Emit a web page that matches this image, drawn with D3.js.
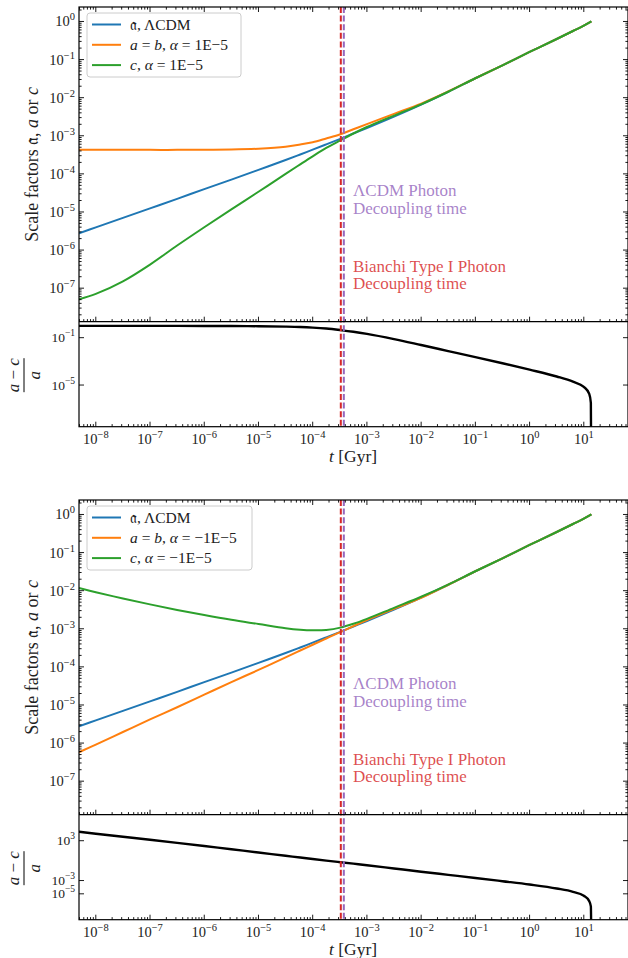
<!DOCTYPE html>
<html><head><meta charset="utf-8">
<script src="https://cdnjs.cloudflare.com/ajax/libs/d3/7.8.5/d3.min.js"></script>
<style>
body{margin:0;background:#fff}
svg{display:block}
text{font-family:"Liberation Serif","DejaVu Serif",serif;fill:#222}
</style>
</head><body>
<svg id="fig" width="628" height="958"></svg>
<script>
// all values are log10 (t in Gyr)
const logT = [-8.31,-8,-7.5,-7,-6.5,-6,-5.5,-5,-4.5,-4.23,-4,-3.75,-3.49,-3.25,-3,-2.5,-2,-1.5,-1,-0.5,0,0.5,0.8,1.0,1.14];
const aLCDM = [-5.56,-5.405,-5.155,-4.905,-4.655,-4.40,-4.15,-3.895,-3.635,-3.49,-3.365,-3.225,-3.08,-2.94,-2.795,-2.495,-2.18,-1.845,-1.49,-1.15,-0.80,-0.46,-0.25,-0.11,0.0];
// alpha = 1E-5
const abPos = [-3.37,-3.37,-3.37,-3.37,-3.37,-3.365,-3.36,-3.34,-3.29,-3.23,-3.17,-3.07,-2.96,-2.83,-2.695,-2.425,-2.155,-1.835,-1.49,-1.15,-0.80,-0.46,-0.25,-0.11,0.0];
const cPos  = [-7.29,-7.15,-6.82,-6.38,-5.88,-5.40,-4.93,-4.47,-4.00,-3.75,-3.54,-3.32,-3.12,-2.94,-2.77,-2.47,-2.175,-1.845,-1.49,-1.15,-0.80,-0.46,-0.25,-0.11,0.0];
// alpha = -1E-5
const abNeg = [-6.24,-6.04,-5.71,-5.38,-5.06,-4.73,-4.40,-4.08,-3.75,-3.57,-3.42,-3.255,-3.09,-2.93,-2.77,-2.475,-2.19,-1.845,-1.49,-1.15,-0.80,-0.46,-0.25,-0.11,0.0];
const cNeg  = [-1.93,-2.04,-2.205,-2.36,-2.505,-2.64,-2.765,-2.875,-2.985,-3.025,-3.04,-3.03,-2.97,-2.87,-2.74,-2.45,-2.16,-1.84,-1.49,-1.15,-0.80,-0.46,-0.25,-0.11,0.0];

// relative difference (a - c)/a
const logTres = [-8.31,-8,-7.5,-7,-6.5,-6,-5.5,-5,-4.5,-4.23,-4,-3.75,-3.49,-3.25,-3,-2.5,-2,-1.5,-1,-0.5,0,0.5,0.8,1.0,1.1,1.13,1.14];
const resPos = [-0.003,-0.003,-0.003,-0.004,-0.006,-0.01,-0.017,-0.03,-0.065,-0.1,-0.15,-0.23,-0.36,-0.5,-0.68,-1.12,-1.62,-2.13,-2.64,-3.16,-3.7,-4.28,-4.72,-5.15,-5.75,-6.5,-14];
const resNeg = [4.36,4.05,3.6,3.15,2.68,2.2,1.71,1.23,0.73,0.47,0.24,0.0,-0.24,-0.46,-0.69,-1.18,-1.67,-2.14,-2.61,-3.1,-3.6,-4.2,-4.7,-5.3,-6.1,-6.9,-14];

const xTicks = [-8,-7,-6,-5,-4,-3,-2,-1,0,1];
const mainTicks = [0,-1,-2,-3,-4,-5,-6,-7];
const resPosTicks = [-1,-5];
const resNegTicks = [3,-3,-5];

const tDecLCDM = 3.75e-4, tDecBianchi = 3.3e-4;

const C = {blue:"#1f77b4", orange:"#ff7f0e", green:"#2ca02c", red:"#d62728", purple:"#9467bd"};

const svg = d3.select("#fig");
const X0 = 79, X1 = 628;
const x = d3.scaleLog().domain([Math.pow(10,-8.31), Math.pow(10,1.815)]).range([X0, X1]);

function pow(a){ return Math.pow(10,a); }

function rich(sel, parts){
  parts.forEach(p => {
    sel.append("tspan").attr("font-style", p[1] ? "italic" : null).text(p[0]);
  });
}

function sciLabel(sel, e, sup){
  sel.append("tspan").text("10");
  sel.append("tspan").attr("dy", -6).attr("font-size", sup || 10.5).text(e < 0 ? "\u2212" + (-e) : "" + e);
}

function minorVals(lo, hi){
  const out = [];
  for (let d = Math.floor(lo); d <= Math.ceil(hi); d++)
    for (let m = 2; m <= 9; m++){
      const v = Math.log10(m) + d;
      if (v > lo && v < hi) out.push(pow(v));
    }
  return out;
}

function drawFigure(oy, ab, cc, res, resTicks, resDom, leg){
  const mTop = 7 + oy, mBot = 321.7 + oy, rBot = 426.7 + oy;
  const y = d3.scaleLog().domain([pow(-7.88), pow(0.38)]).range([mBot, mTop]);
  const yr = d3.scaleLog().domain([pow(resDom[0]), pow(resDom[1])]).range([rBot, mBot]);
  const g = svg.append("g");
  const id = "c" + oy;

  g.append("clipPath").attr("id", id + "m").append("rect")
    .attr("x", X0).attr("y", mTop).attr("width", X1 - X0).attr("height", mBot - mTop);
  g.append("clipPath").attr("id", id + "r").append("rect")
    .attr("x", X0).attr("y", mBot).attr("width", X1 - X0).attr("height", rBot - mBot);

  // curves on main panel
  const line = d3.line().x(d => x(d[0])).y(d => y(d[1])).curve(d3.curveCatmullRom.alpha(0.5));
  const series = [[aLCDM, C.blue], [ab, C.orange], [cc, C.green]];
  const mg = g.append("g").attr("clip-path", `url(#${id}m)`);
  series.forEach(s => {
    mg.append("path").datum(logT.map((t, i) => [pow(t), pow(s[0][i])]))
      .attr("d", line).attr("fill", "none").attr("stroke", s[1]).attr("stroke-width", 2);
  });

  // residual
  const rline = d3.line().x(d => x(d[0])).y(d => yr(d[1])).curve(d3.curveMonotoneX);
  g.append("g").attr("clip-path", `url(#${id}r)`).append("path")
    .datum(logTres.map((t, i) => [pow(t), pow(res[i])]))
    .attr("d", rline).attr("fill", "none").attr("stroke", "#000").attr("stroke-width", 2.4);

  // decoupling lines
  [[tDecBianchi, C.red], [tDecLCDM, C.purple]].forEach(v => {
    g.append("line").attr("x1", x(v[0])).attr("x2", x(v[0]))
      .attr("y1", mTop).attr("y2", rBot)
      .attr("stroke", v[1]).attr("stroke-width", 2).attr("stroke-dasharray", "6,2.6");
  });

  // annotations
  const ax = 353;
  [["\u039BCDM Photon", 196 + oy, C.purple], ["Decoupling time", 213.5 + oy, C.purple],
   ["Bianchi Type I Photon", 271.5 + oy, C.red], ["Decoupling time", 289 + oy, C.red]]
    .forEach(a => {
      g.append("text").attr("x", ax).attr("y", a[1]).attr("font-size", 17)
        .style("fill", a[2]).attr("fill-opacity", 0.82).text(a[0]);
    });

  // spines
  g.append("rect").attr("x", X0).attr("y", mTop).attr("width", X1 - X0).attr("height", rBot - mTop)
    .attr("fill", "none").attr("stroke", "#000").attr("stroke-width", 1.2);
  g.append("line").attr("x1", X0).attr("x2", X1).attr("y1", mBot).attr("y2", mBot)
    .attr("stroke", "#000").attr("stroke-width", 1.2);

  // x ticks (inward) on main top, main bottom and residual bottom
  const xMaj = xTicks.map(pow);
  const xMin = minorVals(-8.31, 1.815);
  const tk = g.append("g").attr("stroke", "#000").attr("stroke-width", 0.9);
  [[mTop, 1], [mBot, -1], [rBot, -1]].forEach(r => {
    xMaj.forEach(v => tk.append("line").attr("x1", x(v)).attr("x2", x(v)).attr("y1", r[0]).attr("y2", r[0] + r[1] * 5));
    xMin.forEach(v => tk.append("line").attr("x1", x(v)).attr("x2", x(v)).attr("y1", r[0]).attr("y2", r[0] + r[1] * 2.6));
  });

  // y ticks
  const yMaj = mainTicks.map(pow);
  const yMin = minorVals(-7.88, 0.38);
  [[X0, 1], [X1, -1]].forEach(r => {
    yMaj.forEach(v => tk.append("line").attr("y1", y(v)).attr("y2", y(v)).attr("x1", r[0]).attr("x2", r[0] + r[1] * 5));
    yMin.forEach(v => tk.append("line").attr("y1", y(v)).attr("y2", y(v)).attr("x1", r[0]).attr("x2", r[0] + r[1] * 2.6));
    resTicks.forEach(e => tk.append("line").attr("y1", yr(pow(e))).attr("y2", yr(pow(e))).attr("x1", r[0]).attr("x2", r[0] + r[1] * 5));
  });

  // tick labels
  mainTicks.forEach(e => {
    const t = g.append("text").attr("x", 75).attr("y", y(pow(e)) + 5).attr("text-anchor", "end").attr("font-size", 14.5);
    sciLabel(t, e);
  });
  resTicks.forEach(e => {
    const t = g.append("text").attr("x", 75).attr("y", yr(pow(e)) + 4.5).attr("text-anchor", "end").attr("font-size", 13.5);
    sciLabel(t, e, 9.5);
  });
  xTicks.forEach(e => {
    const t = g.append("text").attr("x", x(pow(e))).attr("y", rBot + 17).attr("text-anchor", "middle").attr("font-size", 14.5);
    sciLabel(t, e);
  });

  // axis labels
  const xl = g.append("text").attr("x", 353).attr("y", rBot + 35).attr("text-anchor", "middle").attr("font-size", 17.5);
  rich(xl, [["t", 1], [" [Gyr]", 0]]);
  const yl = g.append("text").attr("transform", `translate(38,${(mTop + mBot) / 2}) rotate(-90)`)
    .attr("text-anchor", "middle").attr("font-size", 18);
  rich(yl, [["Scale factors ", 0], ["\u{1D51E}", 0], [", ", 0], ["a", 1], [" or ", 0], ["c", 1]]);

  const fr = g.append("g").attr("transform", `translate(24,${(mBot + rBot) / 2 + 1}) rotate(-90)`);
  fr.append("line").attr("x1", -17).attr("x2", 17).attr("y1", 0).attr("y2", 0).attr("stroke", "#000").attr("stroke-width", 1);
  const nu = fr.append("text").attr("y", -5.5).attr("text-anchor", "middle").attr("font-size", 17);
  rich(nu, [["a", 1], [" \u2212 ", 0], ["c", 1]]);
  fr.append("text").attr("y", 16).attr("text-anchor", "middle").attr("font-size", 17).attr("font-style", "italic").text("a");

  // legend
  const lg = g.append("g");
  lg.append("rect").attr("x", 87).attr("y", 13 + oy).attr("width", leg.w).attr("height", 64).attr("rx", 3)
    .attr("fill", "#fff").attr("fill-opacity", 0.8).attr("stroke", "#ccc").attr("stroke-width", 1);
  leg.items.forEach((it, i) => {
    const ry = 24.5 + oy + i * 20.3;
    lg.append("line").attr("x1", 92).attr("x2", 121).attr("y1", ry).attr("y2", ry)
      .attr("stroke", series[i][1]).attr("stroke-width", 2);
    const tt = lg.append("text").attr("x", 130).attr("y", ry + 5).attr("font-size", 15.5);
    rich(tt, it);
  });
}

drawFigure(0, abPos, cPos, resPos, resPosTicks, [-8.52, 0.35], {
  w: 154,
  items: [
    [["\u{1D51E}", 0], [", \u039BCDM", 0]],
    [["a", 1], [" = ", 0], ["b", 1], [", ", 0], ["\u03B1", 1], [" = 1E\u22125", 0]],
    [["c", 1], [", ", 0], ["\u03B1", 1], [" = 1E\u22125", 0]]
  ]
});
drawFigure(493, abNeg, cNeg, resNeg, resNegTicks, [-8.9, 6.92], {
  w: 165,
  items: [
    [["\u{1D51E}", 0], [", \u039BCDM", 0]],
    [["a", 1], [" = ", 0], ["b", 1], [", ", 0], ["\u03B1", 1], [" = \u22121E\u22125", 0]],
    [["c", 1], [", ", 0], ["\u03B1", 1], [" = \u22121E\u22125", 0]]
  ]
});
</script>
</body></html>
